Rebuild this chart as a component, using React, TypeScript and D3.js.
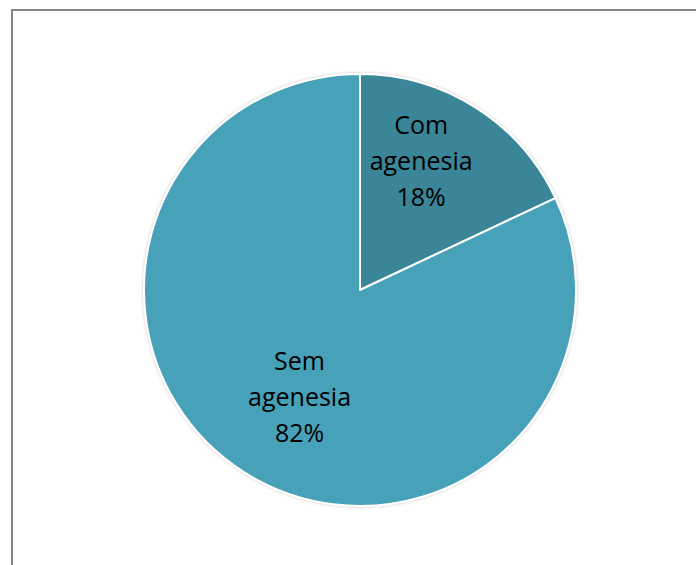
import React from "react";
import * as d3 from "d3";

const categories = ["Com agenesia", "Sem agenesia"];
const labelLines = [["Com", "agenesia", "18%"], ["Sem", "agenesia", "82%"]];
const values = [18, 82];
const colors = ["#3A8598", "#47A1B8"];

const labelRadiusFrac = [0.66, 0.57];
const labelAngleShift = [-7, -3];

export default function App() {
  const W = 696, H = 565;
  const cx = 360, cy = 290, r = 216;
  const pie = d3.pie<number>().sort(null).value((d) => d);
  const arcs = pie(values);
  const arc = d3.arc<d3.PieArcDatum<number>>().innerRadius(0).outerRadius(r);
  const lineH = 36;
  return (
    <svg width={W} height={H} style={{ position: "absolute", left: 0, top: 0 }}>
      <defs>
        <filter id="sh" x="-10%" y="-10%" width="120%" height="120%">
          <feDropShadow dx="0" dy="0" stdDeviation="1.5" floodColor="#000" floodOpacity="0.25" />
        </filter>
      </defs>
      <rect x={0} y={0} width={W} height={H} fill="#fff" />
      <rect x={12} y={10} width={W} height={H} fill="#fff" stroke="#868686" strokeWidth={2} />
      <g transform={`translate(${cx},${cy})`}>
        <g filter="url(#sh)">
          {arcs.map((a, i) => (
            <path key={categories[i]} d={arc(a) || ""} fill={colors[i]} stroke="#fff" strokeWidth={2} strokeLinejoin="round" />
          ))}
        </g>
        {arcs.map((a, i) => {
          const ang = (a.startAngle + a.endAngle) / 2 + (labelAngleShift[i] * Math.PI) / 180;
          const lr = r * labelRadiusFrac[i];
          const lx = lr * Math.sin(ang);
          const ly = -lr * Math.cos(ang);
          const lines = labelLines[i];
          return (
            <text key={"l" + i} x={lx} y={ly} textAnchor="middle" fontFamily="'Open Sans', sans-serif" fontSize={25} fill="#000">
              {lines.map((t, j) => (
                <tspan key={j} x={lx} y={ly + (j - (lines.length - 1) / 2) * lineH} dy="0.35em">{t}</tspan>
              ))}
            </text>
          );
        })}
      </g>
    </svg>
  );
}
